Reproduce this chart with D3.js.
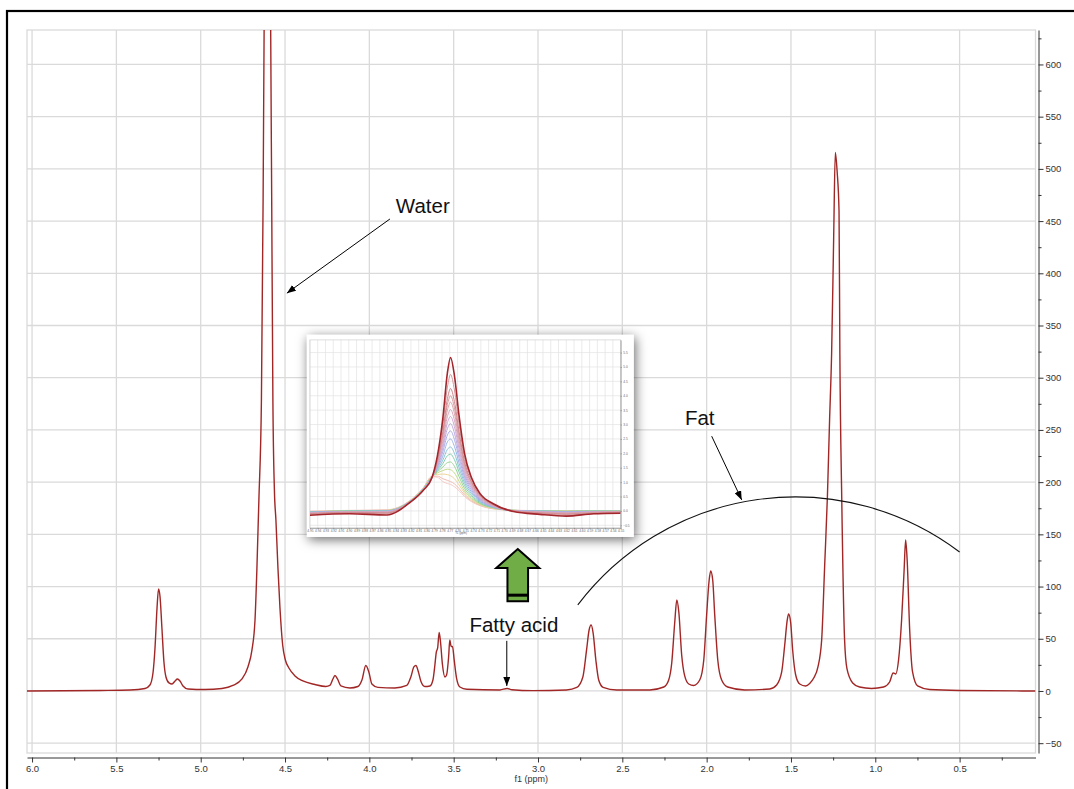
<!DOCTYPE html>
<html>
<head>
<meta charset="utf-8">
<script src="https://cdn.jsdelivr.net/npm/d3@7"></script>
<style>
  html, body { margin: 0; padding: 0; background: #fff; }
  svg { display: block; font-family: "Liberation Sans", Arial, Helvetica, sans-serif; }
</style>
</head>
<body>
<svg id="chart" width="1074" height="789"></svg>
<script>
// ---- 1H NMR spectrum: chemical shift (ppm) and intensity ----
const spectrumPpm = [6.030,5.597,5.419,5.330,5.301,5.283,5.271,5.259,5.250,5.241,
  5.230,5.218,5.206,5.188,5.170,5.152,5.138,5.123,5.105,5.075,
  4.975,4.874,4.809,4.755,4.720,4.696,4.678,4.667,4.655,4.640,
  4.630,4.624,4.604,4.585,4.579,4.572,4.563,4.554,4.542,4.530,
  4.514,4.498,4.477,4.441,4.394,4.323,4.258,4.234,4.216,4.204,
  4.189,4.169,4.115,4.068,4.044,4.021,4.003,3.985,3.949,3.849,
  3.778,3.754,3.736,3.724,3.709,3.695,3.671,3.641,3.623,3.612,
  3.603,3.595,3.586,3.578,3.567,3.552,3.542,3.530,3.523,3.515,
  3.507,3.497,3.483,3.463,3.422,3.226,3.183,3.155,3.031,2.831,
  2.770,2.734,2.712,2.697,2.685,2.673,2.657,2.640,2.614,2.533,
  2.337,2.254,2.225,2.207,2.189,2.177,2.165,2.148,2.130,2.106,
  2.077,2.041,2.017,2.000,1.985,1.976,1.964,1.952,1.934,1.911,
  1.875,1.774,1.626,1.585,1.555,1.537,1.522,1.514,1.502,1.490,
  1.472,1.448,1.413,1.389,1.365,1.340,1.318,1.300,1.284,1.271,
  1.259,1.247,1.237,1.226,1.215,1.210,1.199,1.182,1.168,1.134,
  1.093,1.022,0.951,0.915,0.894,0.879,0.862,0.844,0.829,0.820,
  0.811,0.796,0.779,0.749,0.678,0.500,0.050];

const spectrumIntensity = [0,0.5,1.0,2.4,5.7,17.2,41.2,79.5,97.7,90,
  60.3,27.8,13.4,7.7,6.7,9.6,11.5,9.6,4.8,1.9,
  1.4,2.4,5.3,11.5,23,39.3,68,115.9,182.9,278.7,
  470.2,633,1400,633,470,278.7,192.5,163.7,117.8,79.5,
  44,29.7,22,14.4,9.6,6.2,4.3,5.3,11.5,14.8,
  11.5,4.8,2.9,4.3,10.5,24.4,18.2,6.7,3.4,2.9,
  5.3,13.4,23,24.4,18.2,9.6,4.3,4.8,10.5,23.9,
  37.3,41.2,56,46.9,25.9,13.4,15.3,32.6,48.8,42.6,
  42.6,29.7,12.4,3.8,1.6,1.0,2.4,1.2,0.3,1.0,
  3.4,13.4,39.3,58.4,63.2,55.5,29.7,10.5,3.5,1.0,
  1.0,3.8,10.5,26.8,66,87.1,75.6,34.5,14.4,6.7,
  5.3,10.5,29.7,72.8,106.3,114.9,106.3,72.8,29.7,10.5,
  3.8,1.0,1.9,5.7,18.2,44,68,73.7,66,39.3,
  15.3,6.7,4.8,7.2,12.4,23,48.8,120.7,185.8,259.5,
  322.7,431.9,515.7,497,459.6,322.7,185.8,48.8,21.4,7.7,
  3.8,2.4,3.8,8.6,17.2,16.3,29.7,68,115.9,144.6,
  125.4,58.4,18.2,4.8,1.4,0.5,0];

// axis ticks
const xTickValues = [6.0,5.5,5.0,4.5,4.0,3.5,3.0,2.5,2.0,1.5,1.0,0.5];
const xMinorTicks = [5.75,5.25,4.75,4.25,3.75,3.25,2.75,2.25,1.75,1.25,0.75,0.25];
const yTickValues = [-50,0,50,100,150,200,250,300,350,400,450,500,550,600];
const yMinorTicks = [-25,25,75,125,175,225,275,325,375,425,475,525,575,625];

// ---- water signal series (overlaid traces, inset) ----
const insetPpm = [4.950,4.899,4.851,4.821,4.804,4.793,4.786,4.779,4.773,4.769,
  4.764,4.758,4.751,4.742,4.731,4.714,4.688,4.654,4.620,4.585,4.550];
const insetTraces = [
  [-0.15,-0.10,-0.14,0.30,0.72,1.15,1.90,3.20,4.80,5.33,4.70,3.30,2.00,1.15,0.60,0.25,-0.02,-0.12,-0.18,-0.10,-0.08],
  [-0.12,-0.08,-0.10,0.30,0.72,1.15,1.80,2.95,4.30,4.74,4.20,3.00,1.85,1.10,0.58,0.24,0.00,-0.10,-0.15,-0.10,-0.06],
  [-0.10,-0.06,-0.08,0.30,0.72,1.15,1.75,2.75,3.90,4.25,3.80,2.75,1.72,1.02,0.55,0.22,0.00,-0.08,-0.12,-0.08,-0.05],
  [-0.10,-0.05,-0.06,0.31,0.72,1.15,1.70,2.65,3.70,4.00,3.58,2.60,1.62,0.98,0.52,0.20,0.00,-0.06,-0.10,-0.06,-0.04],
  [-0.08,-0.04,-0.05,0.31,0.73,1.16,1.68,2.55,3.50,3.78,3.38,2.45,1.55,0.93,0.50,0.19,0.00,-0.05,-0.08,-0.05,-0.04],
  [-0.08,-0.04,-0.04,0.31,0.73,1.16,1.64,2.42,3.28,3.52,3.15,2.30,1.45,0.88,0.47,0.18,0.00,-0.04,-0.07,-0.04,-0.03],
  [-0.07,-0.03,-0.03,0.32,0.74,1.16,1.60,2.30,3.07,3.28,2.93,2.15,1.36,0.83,0.44,0.17,0.00,-0.03,-0.06,-0.04,-0.03],
  [-0.06,-0.03,-0.02,0.32,0.74,1.17,1.56,2.18,2.86,3.03,2.70,1.98,1.27,0.78,0.41,0.16,0.01,-0.02,-0.05,-0.03,-0.02],
  [-0.05,-0.02,-0.02,0.32,0.75,1.17,1.52,2.05,2.64,2.78,2.48,1.83,1.18,0.72,0.38,0.15,0.01,-0.02,-0.04,-0.02,-0.02],
  [-0.05,-0.02,-0.01,0.33,0.75,1.17,1.48,1.90,2.40,2.50,2.24,1.66,1.08,0.66,0.35,0.14,0.01,-0.01,-0.03,-0.02,-0.02],
  [-0.04,-0.01,0.00,0.33,0.76,1.18,1.44,1.76,2.14,2.22,2.00,1.50,0.98,0.60,0.32,0.13,0.01,-0.01,-0.02,-0.01,-0.01],
  [-0.04,0.00,0.00,0.33,0.76,1.18,1.40,1.64,1.92,1.97,1.78,1.35,0.88,0.54,0.29,0.12,0.02,0.00,-0.02,-0.01,-0.01],
  [-0.03,0.00,0.01,0.34,0.77,1.19,1.36,1.52,1.68,1.70,1.55,1.19,0.78,0.48,0.26,0.11,0.02,0.00,-0.01,0.00,-0.01],
  [-0.03,0.00,0.01,0.34,0.78,1.19,1.32,1.40,1.45,1.43,1.32,1.03,0.69,0.43,0.24,0.10,0.02,0.00,-0.01,0.00,0.00],
  [-0.02,0.00,0.02,0.35,0.79,1.20,1.27,1.28,1.26,1.22,1.12,0.90,0.62,0.39,0.22,0.09,0.02,0.00,0.00,0.00,0.00],
  [-0.02,0.01,0.03,0.36,0.80,1.20,1.21,1.12,1.06,1.02,0.94,0.78,0.55,0.35,0.20,0.08,0.02,0.01,0.00,0.00,0.00],
  [-0.01,0.02,0.04,0.37,0.81,1.19,1.17,1.02,0.95,0.92,0.84,0.70,0.50,0.32,0.18,0.07,0.02,0.01,0.00,0.01,0.00]
];
const insetColors = ["#a3262c","#d3959a","#cd868c","#d59aa0","#d9a3aa","#d6a6bd","#cea7d3","#bea9dd",
  "#adaee6","#9cb3e6","#8cc3d6","#86ceb0","#9ad496","#c4da8c","#ebd49a","#efbcb2","#f3cbc5"];
const insetXTicks = d3.range(41).map(i => +(4.95 - i * 0.01).toFixed(2));
const insetYTicks = [-0.5,0,0.5,1.0,1.5,2.0,2.5,3.0,3.5,4.0,4.5,5.0,5.5];

// ---- annotations, positioned in (ppm, intensity) ----
const waterLabel = {ppm: 3.683, value: 465, text: "Water"};
const waterArrow = {from: [3.878, 452], to: [4.489, 381]};
const fatLabel = {ppm: 2.041, value: 262, text: "Fat"};
const fatArrow = {from: [1.970, 244], to: [1.792, 183]};
const fatArc = [[2.764, 82.4], [1.478, 185.8], [0.500, 133.1]];
const fattyLabel = {ppm: 3.143, value: 63, text: "Fatty acid"};
const fattyArrow = {from: [3.185, 48], to: [3.185, 4.8]};
const upArrow = {ppm: 3.120, top: 136, bottom: 86};
const insetBox = {ppm0: 4.37, ppm1: 2.432, top: 341, bottom: 147.5};

// ---- layout ----
const svg = d3.select("#chart");
const plot = {left: 27, right: 1035.5, top: 30, bottom: 753};
const x = d3.scaleLinear().domain([6.03, 0.05]).range([plot.left, plot.right]);
const y = d3.scaleLinear().domain([-59.4, 633]).range([plot.bottom, plot.top]);

const defs = svg.append("defs");
defs.append("clipPath").attr("id", "plotClip")
  .append("rect").attr("x", plot.left).attr("y", plot.top)
  .attr("width", plot.right - plot.left).attr("height", plot.bottom - plot.top);
defs.append("marker").attr("id", "head")
  .attr("viewBox", "0 0 10 10").attr("refX", 10).attr("refY", 5)
  .attr("markerWidth", 9).attr("markerHeight", 7).attr("markerUnits", "userSpaceOnUse")
  .attr("orient", "auto").attr("preserveAspectRatio", "none")
  .append("path").attr("d", "M0,0 L10,5 L0,10 Z").attr("fill", "#000");
const shadow = defs.append("filter").attr("id", "shadow")
  .attr("x", "-12%").attr("y", "-15%").attr("width", "125%").attr("height", "135%");
shadow.append("feDropShadow").attr("dx", 1.5).attr("dy", 2.5).attr("stdDeviation", 6)
  .attr("flood-color", "#000").attr("flood-opacity", 0.6);

// outer frame
svg.append("rect").attr("x", 7).attr("y", 11).attr("width", 1100).attr("height", 800)
  .attr("fill", "none").attr("stroke", "#000").attr("stroke-width", 2.2);

// grid
const grid = svg.append("g").attr("stroke", "#dadada").attr("stroke-width", 1.3);
grid.selectAll("line.v").data(xTickValues).join("line")
  .attr("x1", d => x(d)).attr("x2", d => x(d)).attr("y1", plot.top).attr("y2", plot.bottom);
grid.selectAll("line.h").data(yTickValues).join("line")
  .attr("x1", plot.left).attr("x2", plot.right).attr("y1", d => y(d)).attr("y2", d => y(d));
grid.append("rect").attr("x", plot.left).attr("y", plot.top)
  .attr("width", plot.right - plot.left).attr("height", plot.bottom - plot.top).attr("fill", "none");

// x axis
const xAxisY = 757.5;
svg.append("g").attr("transform", `translate(0,${xAxisY})`)
  .call(d3.axisBottom(x).tickValues(xTickValues).tickFormat(d3.format(".1f")).tickSize(5).tickSizeOuter(0).tickPadding(3));
svg.append("g").attr("transform", `translate(0,${xAxisY})`)
  .call(d3.axisBottom(x).tickValues(xMinorTicks).tickFormat("").tickSize(3).tickSizeOuter(0))
  .select(".domain").remove();
svg.append("text").attr("x", (plot.left + plot.right) / 2).attr("y", 782)
  .attr("text-anchor", "middle").attr("font-size", 9).attr("fill", "#333").text("f1 (ppm)");

// y axis
const yAxisX = 1038.5;
svg.append("g").attr("transform", `translate(${yAxisX},0)`)
  .call(d3.axisRight(y).tickValues(yTickValues).tickSize(5).tickSizeOuter(0).tickPadding(2));
svg.append("g").attr("transform", `translate(${yAxisX},0)`)
  .call(d3.axisRight(y).tickValues(yMinorTicks).tickFormat("").tickSize(3).tickSizeOuter(0))
  .select(".domain").remove();
svg.selectAll(".tick text").attr("font-size", 9.5).attr("fill", "#333")
  .attr("font-family", "'Liberation Sans', Arial, sans-serif");
svg.selectAll(".domain, .tick line").attr("stroke", "#333");

// spectrum trace
const spectrum = spectrumPpm.map((p, i) => ({ppm: p, value: spectrumIntensity[i]}));
const line = d3.line().x(d => x(d.ppm)).y(d => y(d.value)).curve(d3.curveMonotoneX);
svg.append("path").datum(spectrum).attr("clip-path", "url(#plotClip)")
  .attr("d", line).attr("fill", "none").attr("stroke", "#a12626").attr("stroke-width", 1.4)
  .attr("stroke-linejoin", "round");

// annotations
const ann = svg.append("g");
function label(o) {
  ann.append("text").attr("x", x(o.ppm)).attr("y", y(o.value)).attr("dy", "0.35em")
    .attr("text-anchor", "middle").attr("font-size", 20.5).attr("fill", "#111").text(o.text);
}
function arrow(a) {
  ann.append("line").attr("x1", x(a.from[0])).attr("y1", y(a.from[1]))
    .attr("x2", x(a.to[0])).attr("y2", y(a.to[1]))
    .attr("stroke", "#000").attr("stroke-width", 1).attr("marker-end", "url(#head)");
}
label(waterLabel); arrow(waterArrow);
label(fatLabel); arrow(fatArrow);
label(fattyLabel); arrow(fattyArrow);

// fat arc: circle through three points
(function () {
  const [a, b, c] = fatArc.map(d => [x(d[0]), y(d[1])]);
  const d = 2 * (a[0] * (b[1] - c[1]) + b[0] * (c[1] - a[1]) + c[0] * (a[1] - b[1]));
  const sa = a[0] * a[0] + a[1] * a[1], sb = b[0] * b[0] + b[1] * b[1], sc = c[0] * c[0] + c[1] * c[1];
  const ux = (sa * (b[1] - c[1]) + sb * (c[1] - a[1]) + sc * (a[1] - b[1])) / d;
  const uy = (sa * (c[0] - b[0]) + sb * (a[0] - c[0]) + sc * (b[0] - a[0])) / d;
  const r = Math.hypot(a[0] - ux, a[1] - uy);
  ann.append("path").attr("d", `M${a[0]},${a[1]} A${r},${r} 0 0 1 ${c[0]},${c[1]}`)
    .attr("fill", "none").attr("stroke", "#111").attr("stroke-width", 1.1);
})();

// green up arrow
(function () {
  const tx = x(upArrow.ppm), ty = y(upArrow.top), by = y(upArrow.bottom);
  const hw = 21.5, sw = 10.3, hh = 19;
  const pts = [[tx, ty], [tx + hw, ty + hh], [tx + sw, ty + hh], [tx + sw, by],
    [tx - sw, by], [tx - sw, ty + hh], [tx - hw, ty + hh]];
  ann.append("polygon").attr("points", pts.map(p => p.join(",")).join(" "))
    .attr("fill", "#70ad47").attr("stroke", "#000").attr("stroke-width", 2).attr("stroke-linejoin", "miter");
  ann.append("rect").attr("x", tx - sw).attr("y", by - 7.5).attr("width", 2 * sw).attr("height", 3)
    .attr("fill", "#000");
})();

// ---- inset: overlaid water-signal traces ----
const card = {x0: x(insetBox.ppm0), x1: x(insetBox.ppm1), y0: y(insetBox.top), y1: y(insetBox.bottom)};
const ins = svg.append("g");
ins.append("rect").attr("x", card.x0).attr("y", card.y0)
  .attr("width", card.x1 - card.x0).attr("height", card.y1 - card.y0)
  .attr("fill", "#fff").attr("filter", "url(#shadow)");

const ix = d3.scaleLinear().domain([4.95, 4.55]).range([card.x0 + 3, card.x0 + 313.7]);
const iy = d3.scaleLinear().domain([-0.59, 5.94]).range([card.y0 + 193, card.y0 + 5]);
const [il, ir] = ix.range(), [ib, it] = iy.range();

defs.append("clipPath").attr("id", "insetClip")
  .append("rect").attr("x", il).attr("y", it).attr("width", ir - il).attr("height", ib - it);

const ig = ins.append("g").attr("stroke", "#e2e2e2").attr("stroke-width", 0.7);
ig.selectAll("line.v").data(insetXTicks).join("line")
  .attr("x1", d => ix(d)).attr("x2", d => ix(d)).attr("y1", it).attr("y2", ib);
ig.selectAll("line.h").data(insetYTicks).join("line")
  .attr("x1", il).attr("x2", ir).attr("y1", d => iy(d)).attr("y2", d => iy(d));
ig.append("rect").attr("x", il).attr("y", it).attr("width", ir - il).attr("height", ib - it)
  .attr("fill", "none").attr("stroke", "#d0d0d0");

const iline = d3.line().x(d => ix(d[0])).y(d => iy(d[1])).curve(d3.curveMonotoneX);
const traceG = ins.append("g").attr("clip-path", "url(#insetClip)");
d3.range(insetTraces.length - 1, -1, -1).forEach(k => {
  traceG.append("path").datum(insetPpm.map((p, i) => [p, insetTraces[k][i]]))
    .attr("d", iline).attr("fill", "none").attr("stroke", insetColors[k])
    .attr("stroke-width", k === 0 ? 1.6 : 1.0);
});

// inset axes
const iax = ins.append("g").attr("transform", `translate(0,${ib})`)
  .call(d3.axisBottom(ix).tickValues(insetXTicks).tickFormat(d3.format(".2f")).tickSize(1.2).tickSizeOuter(0).tickPadding(1));
const iay = ins.append("g").attr("transform", `translate(${ir},0)`)
  .call(d3.axisRight(iy).tickValues(insetYTicks).tickFormat(d3.format(".1f")).tickSize(1.2).tickSizeOuter(0).tickPadding(1.5));
[iax, iay].forEach(g => {
  g.selectAll(".domain, .tick line").attr("stroke", "#777").attr("stroke-width", 0.6);
  g.selectAll(".tick text").attr("font-size", 3.2).attr("fill", "#666");
});
ins.append("text").attr("x", ix(4.755)).attr("y", ib + 6.5).attr("text-anchor", "middle")
  .attr("font-size", 3).attr("fill", "#666").text("f1 (ppm)");
</script>
</body>
</html>
